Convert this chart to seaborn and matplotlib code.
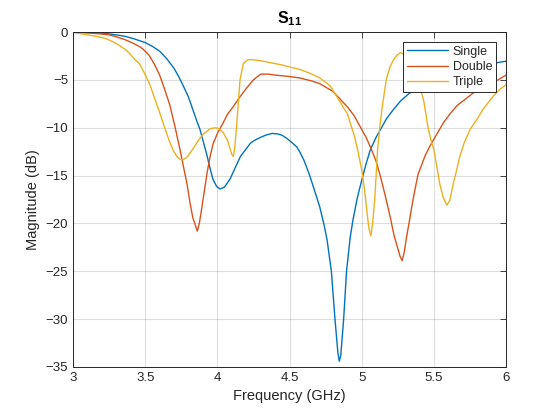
import numpy as np
import pandas as pd
import matplotlib
matplotlib.use("Agg")
import matplotlib.pyplot as plt
import seaborn as sns

# frequency (GHz) and |S11| (dB), one list pair per design
freq_single = [3.0, 3.1, 3.2, 3.25, 3.3, 3.36, 3.42, 3.46, 3.5, 3.55, 3.6, 3.65, 3.7,
               3.73, 3.76, 3.8, 3.83, 3.86, 3.88, 3.9, 3.93, 3.95, 3.97, 3.99, 4.0,
               4.02, 4.05, 4.09, 4.12, 4.16, 4.2, 4.23, 4.26, 4.3, 4.34, 4.38, 4.42,
               4.45, 4.48, 4.52, 4.55, 4.57, 4.6, 4.64, 4.67, 4.71, 4.74, 4.76, 4.79,
               4.815, 4.835, 4.845, 4.855, 4.875, 4.895, 4.92, 4.94, 4.97, 5.0, 5.03,
               5.06, 5.1, 5.13, 5.17, 5.22, 5.27, 5.33, 5.39, 5.45, 5.5, 5.6, 5.75,
               5.9, 6.0]
s11_single = [0, -0.05, -0.12, -0.2, -0.3, -0.45, -0.7, -0.9, -1.1, -1.5, -2.0, -2.8, -3.8,
              -4.6, -5.5, -6.8, -8.1, -9.4, -10.2, -11.3, -13.0, -14.3, -15.4, -16.0, -16.2,
              -16.4, -16.2, -15.3, -14.3, -13.0, -12.2, -11.6, -11.3, -11.0, -10.75, -10.6, -10.65,
              -10.8, -11.1, -11.6, -12.0, -12.5, -13.4, -15.0, -16.4, -18.3, -20.2, -21.7, -25.0,
              -30.0, -33.5, -34.4, -33.8, -30.0, -25.0, -21.5, -19.6, -17.3, -15.5, -13.8,
              -12.3, -11.0, -10.2, -9.1, -8.1, -7.2, -6.4, -5.8, -5.3, -4.9, -4.4, -3.8,
              -3.3, -3.05]

freq_double = [3.0, 3.1, 3.19, 3.25, 3.3, 3.36, 3.42, 3.47, 3.5, 3.53, 3.565, 3.6, 3.635,
               3.67, 3.705, 3.74, 3.79, 3.81, 3.83, 3.861, 3.875, 3.89, 3.91, 3.93, 3.95,
               3.97, 4.0, 4.04, 4.07, 4.11, 4.155, 4.2, 4.25, 4.3, 4.35, 4.4, 4.5, 4.57,
               4.65, 4.71, 4.8, 4.85, 4.9, 4.95, 4.99, 5.03, 5.06, 5.1, 5.13, 5.165, 5.2,
               5.225, 5.25, 5.265, 5.28, 5.295, 5.31, 5.33, 5.35, 5.37, 5.39, 5.415, 5.44,
               5.47, 5.5, 5.535, 5.57, 5.615, 5.66, 5.72, 5.77, 5.83, 5.89, 5.945, 6.0]
s11_double = [0, -0.1, -0.2, -0.3, -0.5, -0.8, -1.2, -1.6, -2.0, -2.5, -3.4, -4.5, -6.0,
              -7.6, -9.8, -12.2, -15.9, -17.8, -19.4, -20.8, -20.0, -18.6, -16.6, -14.6, -13.0,
              -11.7, -10.6, -9.5, -8.6, -7.8, -6.8, -5.9, -5.0, -4.4, -4.4, -4.5, -4.65, -4.8,
              -5.1, -5.4, -6.2, -7.0, -7.8, -8.8, -9.9, -11.0, -12.0, -13.5, -15.1, -17.2, -19.5,
              -21.3, -22.6, -23.4, -23.9, -23.0, -21.5, -19.8, -18.0, -16.4, -14.9, -13.9, -12.9,
              -12.0, -11.2, -10.3, -9.4, -8.5, -7.7, -7.0, -6.4, -5.9, -5.4, -5.0, -4.5]

freq_triple = [3.0, 3.1, 3.15, 3.19, 3.23, 3.26, 3.3, 3.33, 3.36, 3.39, 3.43, 3.46, 3.495,
               3.53, 3.565, 3.6, 3.635, 3.67, 3.695, 3.72, 3.74, 3.76, 3.78, 3.8, 3.84,
               3.87, 3.9, 3.95, 3.99, 4.015, 4.04, 4.07, 4.09, 4.1, 4.11, 4.12, 4.135,
               4.157, 4.18, 4.21, 4.25, 4.3, 4.4, 4.45, 4.5, 4.57, 4.64, 4.71, 4.78, 4.83,
               4.87, 4.9, 4.95, 4.975, 5.0, 5.02, 5.035, 5.05, 5.064, 5.075, 5.09, 5.1,
               5.11, 5.125, 5.14, 5.17, 5.195, 5.22, 5.245, 5.27, 5.3, 5.33, 5.355, 5.38,
               5.405, 5.43, 5.46, 5.48, 5.5, 5.52, 5.54, 5.565, 5.59, 5.61, 5.635, 5.66,
               5.68, 5.71, 5.75, 5.8, 5.84, 5.885, 5.93, 5.965, 6.0]
s11_triple = [-0.05, -0.3, -0.42, -0.55, -0.7, -0.9, -1.2, -1.5, -1.8, -2.2, -2.9, -3.3, -4.3,
              -5.4, -6.9, -8.4, -10.0, -11.5, -12.4, -13.0, -13.3, -13.35, -13.2, -12.9, -12.0,
              -11.3, -10.7, -10.1, -10.0, -10.15, -10.5, -11.3, -12.3, -12.8, -13.0, -12.2, -9.5,
              -5.0, -3.3, -2.9, -2.9, -3.0, -3.3, -3.45, -3.65, -3.9, -4.3, -4.8, -5.6, -6.8,
              -7.8, -8.5, -10.9, -12.5, -14.4, -16.5, -18.6, -20.5, -21.3, -20.0, -17.6, -15.0,
              -12.3, -10.0, -8.1, -5.0, -3.7, -2.9, -2.4, -2.15, -2.4, -3.0, -3.6, -4.6,
              -5.8, -7.2, -10.0, -11.3, -12.3, -14.0, -15.8, -17.3, -18.1, -17.6, -15.8, -14.3,
              -13.0, -11.6, -10.2, -9.1, -8.1, -7.2, -6.4, -5.9, -5.5]

names = ["Single", "Double", "Triple"]
colors = ["#0072BD", "#D95319", "#EDB120"]
x_ticks = [3, 3.5, 4, 4.5, 5, 5.5, 6]
x_labels = ["3", "3.5", "4", "4.5", "5", "5.5", "6"]
y_ticks = [0, -5, -10, -15, -20, -25, -30, -35]

df = pd.concat([
    pd.DataFrame({"freq": freq_single, "s11": s11_single, "design": "Single"}),
    pd.DataFrame({"freq": freq_double, "s11": s11_double, "design": "Double"}),
    pd.DataFrame({"freq": freq_triple, "s11": s11_triple, "design": "Triple"}),
])

sns.set_style("white")
plt.rcParams['font.family'] = ['Liberation Sans', 'DejaVu Sans']
plt.rcParams['mathtext.fontset'] = 'custom'
plt.rcParams['mathtext.rm'] = 'Liberation Sans'
plt.rcParams['mathtext.bf'] = 'Liberation Sans:bold'

fig = plt.figure(figsize=(5.6, 4.2), dpi=100)
ax = fig.add_axes([0.1304, 0.1262, 0.7732, 0.7976])

sns.lineplot(data=df, x="freq", y="s11", hue="design", hue_order=names,
             palette=colors, estimator=None, linewidth=1.0, ax=ax)

ax.set_xlim(3, 6)
ax.set_ylim(-35, 0)
ax.set_xticks(x_ticks)
ax.set_xticklabels(x_labels)
ax.set_yticks(y_ticks)
ax.grid(True, color="#262626", alpha=0.15, linewidth=0.8)
ax.tick_params(direction="in", length=4, width=0.6, colors="#262626",
               labelsize=9.5, top=True, right=True, labelcolor="#262626")
for sp in ax.spines.values():
    sp.set_color("#262626")
    sp.set_linewidth(0.7)
    sp.set_visible(True)

ax.set_xlabel("Frequency (GHz)", fontsize=10.5, color="#262626")
ax.set_ylabel("Magnitude (dB)", fontsize=10.5, color="#262626")
ax.set_title(r"$\mathbf{S_{11}}$", fontsize=11.5, color="black", pad=6)

leg = ax.legend(loc="upper right", fontsize=9, handlelength=3.3, frameon=True,
                fancybox=False, borderpad=0.3, labelspacing=0.25,
                handletextpad=0.4, borderaxespad=0.8)
leg.get_frame().set_edgecolor("#262626")
leg.get_frame().set_linewidth(0.7)
leg.get_frame().set_alpha(1)

plt.savefig("out.png", dpi=100)
